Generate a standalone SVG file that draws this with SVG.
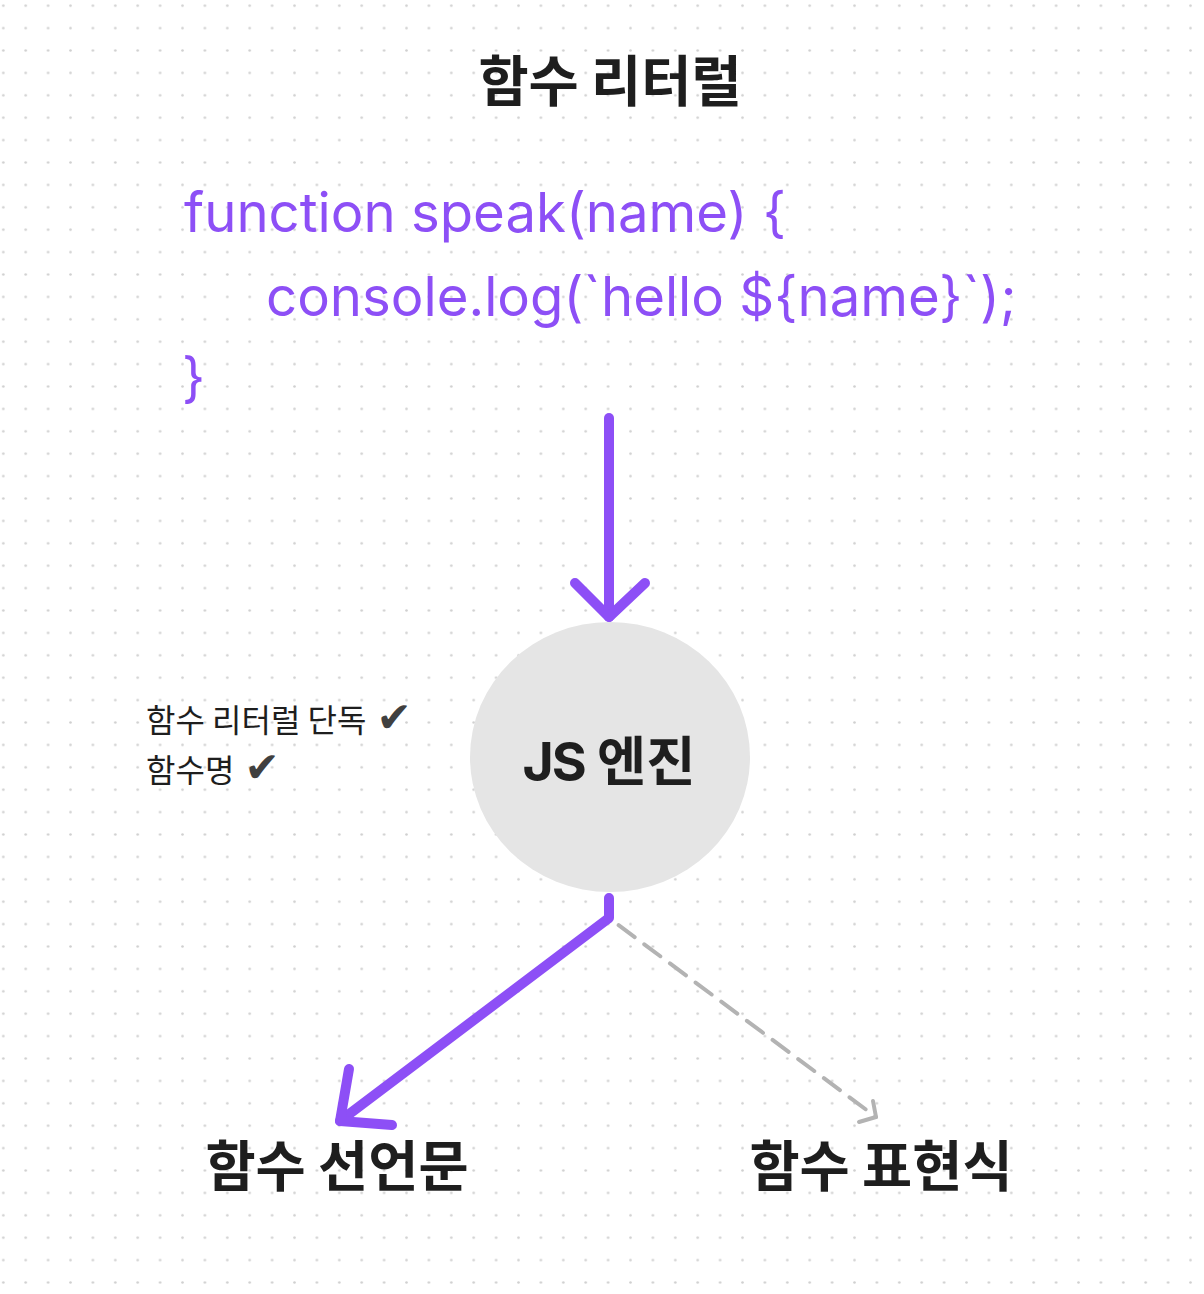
<svg xmlns="http://www.w3.org/2000/svg" width="1204" height="1294" viewBox="0 0 1204 1294">
<style>
.kr{font-family:"Noto Sans CJK KR","Noto Sans",sans-serif;fill:#1e1e1e}
.b{font-weight:700}
.code{font-family:Inter,"Liberation Sans",sans-serif;fill:#8d4ff6;font-size:54.5px}
.chk{font-family:"DejaVu Sans",sans-serif;fill:#404040}
.pl{fill:none;stroke:#8d4ff6;stroke-width:10;stroke-linecap:round;stroke-linejoin:round}
.gl{fill:none;stroke:#b3b3b3;stroke-width:4;stroke-linecap:round;stroke-linejoin:round}
</style>
<defs>
<pattern id="dots" x="-7.9" y="-5.5" width="22.4" height="22.4" patternUnits="userSpaceOnUse">
<circle cx="11.2" cy="11.2" r="1.3" fill="#d0d0d0"/>
</pattern>
</defs>
<rect width="1204" height="1294" fill="#ffffff"/>
<rect width="1204" height="1294" fill="url(#dots)"/>

<g id="title">
<text class="kr b" x="610" y="101" font-size="54.5" text-anchor="middle">함수 리터럴</text>
</g>

<g id="code">
<text class="code" x="184" y="232">function speak(name) {</text>
<text class="code" x="266" y="316">console.log(`hello ${name}`);</text>
<text class="code" x="182" y="397">}</text>
</g>

<g id="notes">
<text class="kr" x="146" y="732" font-size="32">함수 리터럴 단독 <tspan class="chk" font-size="42" dx="3">✔</tspan></text>
<text class="kr" x="146" y="782" font-size="32">함수명 <tspan class="chk" font-size="42" dx="3">✔</tspan></text>
</g>

<g id="engine">
<ellipse cx="610" cy="757" rx="140" ry="135" fill="#e5e5e5"/>
<text class="kr b" x="609" y="781" font-size="53.5" text-anchor="middle" fill="#2e2e2e"><tspan font-family="Inter,'Liberation Sans',sans-serif" letter-spacing="-2">JS</tspan> 엔진</text>
</g>

<g id="declaration">
<text class="kr b" x="337" y="1186" font-size="54.5" text-anchor="middle">함수 선언문</text>
</g>

<g id="expression">
<text class="kr b" x="881" y="1186" font-size="54.5" text-anchor="middle">함수 표현식</text>
</g>

<g id="connectors">
<path class="pl" d="M609 418 V617"/>
<path class="pl" d="M575 583 L609 617 L645 583"/>
<path class="gl" d="M609 898 V918 L876 1117" stroke-dasharray="20 12"/>
<path class="gl" d="M873 1101 L876 1117 L859 1122"/>
<path class="pl" d="M609 898 V918 L340 1121"/>
<path class="pl" d="M349 1069 L340 1121 L392 1125"/>
</g>
</svg>
